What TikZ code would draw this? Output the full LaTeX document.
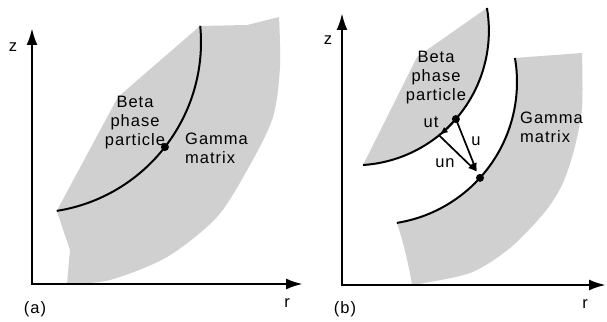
\documentclass[tikz,border=0pt]{standalone}
\usepackage{fontspec}
\setmainfont{Liberation Sans}[LetterSpace=6]
\usetikzlibrary{arrows.meta}
\definecolor{shade}{RGB}{208,208,208}
\begin{document}
\begin{tikzpicture}[x=1pt,y=-1pt,
  axis/.style={line width=2.6pt, line join=miter, {Latex[length=17pt,width=11pt]}-{Latex[length=17pt,width=11pt]}},
  curve/.style={line width=2pt},
  vec/.style={line width=1.7pt, -{Latex[length=9pt,width=6.5pt]}},
  dot/.style={circle,fill=black,inner sep=0pt,minimum size=8pt},
  lbl/.style={font=\fontsize{16.5}{19}\selectfont, inner sep=0pt},
  region/.style={fill=shade}]
\useasboundingbox (0,0) rectangle (607,321);

% ---------- panel (a) ----------
\coordinate (ca) at (30,42);
\fill[region] ([shift={(81:171)}]ca) -- (118,97) -- (200,26) -- (247,25)
  -- plot[smooth] coordinates {(279,17) (280,67) (273,117) (250,165) (217,217) (167,257) (110,280) (67,284)}
  -- (70,250) -- cycle;
\coordinate (oa) at (32,284);
\coordinate (za) at (32,28);
\coordinate (ra) at (303,284);
\draw[axis] (za) -- (oa) -- (ra);
\draw[curve] ([shift={(81:171)}]ca) arc[start angle=81,end angle=-5.4,radius=171];
\node[dot] (pa) at ([shift={(37.9:171)}]ca) {};
\node[lbl,align=center] (betaa) at (135,123) {Beta\\phase\\particle};
\node[lbl,align=left,anchor=west] (gammaa) at (185,148) {Gamma\\matrix};
\node[lbl,anchor=base] (zla) at (13,52) {z};
\node[lbl,anchor=base] (rla) at (287,307) {r};
\node[lbl,anchor=base] (tla) at (35,313) {(a)};

% ---------- panel (b) ----------
\coordinate (cb) at (354.4,30.8);
\coordinate (cc) at (374.3,82);
\fill[region] ([shift={(86.3:134.5)}]cb) arc[start angle=86.3,end angle=-9.8,radius=134.5]
  -- (417,57) -- cycle;
\fill[region] ([shift={(80.9:142.7)}]cc) arc[start angle=80.9,end angle=-9.7,radius=142.7]
  -- plot[smooth] coordinates {(582,53) (582,108) (574,150) (562,185) (544,213) (510,248) (470,273) (412,285)}
  .. controls (408,260) and (402,238) .. cycle;
\coordinate (ob) at (342,285);
\coordinate (zb) at (342,13);
\coordinate (rb) at (606,285);
\draw[axis] (zb) -- (ob) -- (rb);
\draw[curve] ([shift={(86.3:134.5)}]cb) arc[start angle=86.3,end angle=-9.8,radius=134.5];
\draw[curve] ([shift={(80.9:142.7)}]cc) arc[start angle=80.9,end angle=-9.7,radius=142.7];
\node[dot] (d1) at ([shift={(41:134.5)}]cb) {};
\node[dot] (d2) at ([shift={(42.2:142.7)}]cc) {};
\coordinate (utt) at ([shift={(51:134.5)}]cb);
\coordinate (tipu) at (477,172);
\draw[vec] (d1.center) arc[start angle=41,end angle=51,radius=134.5];
\draw[vec] (d1.center) -- (tipu);
\draw[vec] (utt) -- (tipu);
\node[lbl,align=center] (betab) at (436,78) {Beta\\phase\\particle};
\node[lbl,align=left,anchor=west] (gammab) at (520,127) {Gamma\\matrix};
\node[lbl,anchor=base] (utl) at (431,127) {ut};
\node[lbl,anchor=base] (ul) at (476,145) {u};
\node[lbl,anchor=base] (unl) at (445,167) {un};
\node[lbl,anchor=base] (zlb) at (328,45) {z};
\node[lbl,anchor=base] (rlb) at (585,308) {r};
\node[lbl,anchor=base] (tlb) at (345,313) {(b)};
\end{tikzpicture}
\end{document}
